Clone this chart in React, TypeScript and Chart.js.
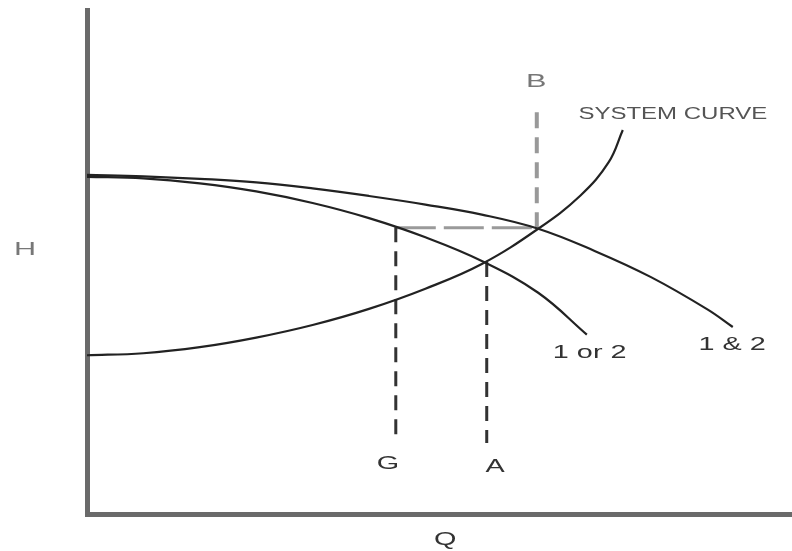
import React, { useEffect, useRef } from "react";
import { Chart, registerables } from "chart.js";

Chart.register(...registerables);

// Pump curves (Q = flow, H = head), arbitrary units 0..100
const flowParallel = [0, 8, 16, 24, 32, 40, 48, 56, 64, 72, 80, 88, 91.6];
const headParallel = [67.3, 67.0, 66.5, 65.8, 64.6, 63.1, 61.4, 59.4, 56.6, 52.2, 47.0, 40.6, 37.1];

const flowSingle = [0, 8, 16, 24, 32, 40, 48, 56, 64, 70.9];
const headSingle = [66.9, 66.6, 65.6, 64.0, 61.7, 58.7, 54.9, 50.2, 43.9, 35.6];

const flowSystem = [0, 8, 16, 24, 32, 40, 48, 56, 64, 70, 74, 76];
const headSystem = [31.5, 31.9, 33.1, 35.0, 37.5, 40.7, 44.7, 49.6, 56.6, 63.2, 69.8, 76.2];

// Guide lines
const guideGFlow = [43.8, 43.8];
const guideGHead = [56.9, 14.1];
const guideAFlow = [56.7, 56.7];
const guideAHead = [50.0, 14.1];
const guideBFlow = [63.8, 63.8];
const guideBHead = [56.7, 80.6];
const guideHFlow = [43.8, 63.8];
const guideHHead = [56.8, 56.8];

// Annotations
const labelTexts = ["B", "SYSTEM CURVE", "1 or 2", "1 & 2", "G", "A", "H", "Q"];
const labelFlow = [63.7, 83.1, 71.3, 91.5, 42.7, 57.9, -8.8, 50.8];
const labelHead = [85.7, 79.2, 31.9, 33.5, 9.9, 9.3, 52.4, -5.2];

const zip = (xs: number[], ys: number[]) => xs.map((x, i) => ({ x, y: ys[i] }));

const labelStyle: Record<string, { font: string; color: string; sx: number }> = {
  "SYSTEM CURVE": { font: "16px 'Liberation Sans', Arial, sans-serif", color: "#555", sx: 1.5 },
  H: { font: "18px 'Liberation Sans', Arial, sans-serif", color: "#777", sx: 1.7 },
  B: { font: "18px 'Liberation Sans', Arial, sans-serif", color: "#777", sx: 1.7 },
};
const defaultStyle = { font: "18px 'Liberation Sans', Arial, sans-serif", color: "#333", sx: 1.6 };

const labelPlugin = {
  id: "labels",
  afterDatasetsDraw(chart: any) {
    const { ctx, scales } = chart;
    labelTexts.forEach((t, i) => {
      const st = labelStyle[t] || defaultStyle;
      const px = scales.x.getPixelForValue(labelFlow[i]);
      const py = scales.y.getPixelForValue(labelHead[i]);
      ctx.save();
      ctx.font = st.font;
      ctx.fillStyle = st.color;
      ctx.textAlign = "center";
      ctx.textBaseline = "middle";
      ctx.translate(px, py);
      ctx.scale(st.sx, 1);
      ctx.fillText(t, 0, 0);
      ctx.restore();
    });
  },
};

export default function App() {
  const ref = useRef<HTMLCanvasElement | null>(null);
  useEffect(() => {
    if (!ref.current) return;
    const curve = (data: any, color = "#222") => ({
      data,
      showLine: true,
      borderColor: color,
      borderWidth: 2.2,
      pointRadius: 0,
      tension: 0.4,
      fill: false,
    });
    const dashed = (data: any, color: string, width: number, dash: number[]) => ({
      data,
      showLine: true,
      borderColor: color,
      borderWidth: width,
      borderDash: dash,
      pointRadius: 0,
      fill: false,
    });
    const chart = new Chart(ref.current, {
      type: "scatter",
      data: {
        datasets: [
          curve(zip(flowParallel, headParallel)),
          curve(zip(flowSingle, headSingle)),
          curve(zip(flowSystem, headSystem)),
          dashed(zip(guideGFlow, guideGHead), "#333", 3, [15, 9]),
          dashed(zip(guideAFlow, guideAHead), "#333", 3, [15, 9]),
          dashed(zip(guideBFlow, guideBHead), "#999", 4, [16, 9]),
          dashed(zip(guideHFlow, guideHHead), "#9a9a9a", 3, [40, 8]),
        ],
      },
      options: {
        animation: false,
        responsive: false,
        layout: { padding: { left: 87, top: 10, right: 0, bottom: 37 } },
        plugins: { legend: { display: false }, tooltip: { enabled: false } },
        scales: {
          x: {
            type: "linear",
            min: 0,
            max: 100,
            ticks: { display: false },
            grid: { display: false, drawTicks: false },
            border: { display: true, color: "#6a6a6a", width: 5 },
          },
          y: {
            type: "linear",
            min: 0,
            max: 100,
            ticks: { display: false },
            grid: { display: false, drawTicks: false },
            border: { display: true, color: "#6a6a6a", width: 5 },
          },
        },
      },
      plugins: [labelPlugin],
    });
    return () => chart.destroy();
  }, []);
  return (
    <div style={{ position: "absolute", left: 0, top: 0, width: 792, height: 551, background: "#fff" }}>
      <canvas ref={ref} width={792} height={551} style={{ display: "block" }} />
    </div>
  );
}
